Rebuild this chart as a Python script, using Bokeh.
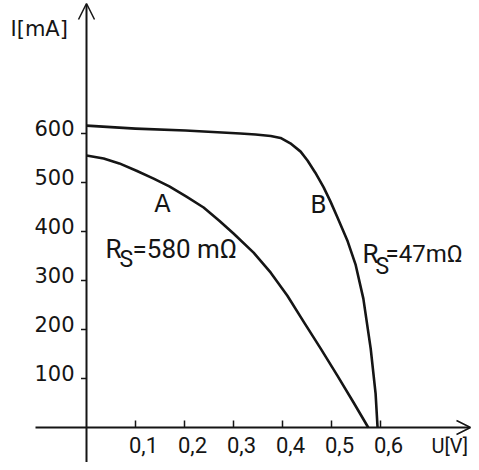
from bokeh.plotting import figure
from bokeh.models import Range1d, Arrow, OpenHead
from bokeh.core.properties import value
from bokeh.embed import file_html
from bokeh.resources import INLINE
import numpy as np

# ---- data ----
u_a = [0, 0.035, 0.067, 0.102, 0.137, 0.169, 0.204, 0.239, 0.271, 0.300,
       0.341, 0.376, 0.410, 0.443, 0.478, 0.512, 0.545, 0.575]
i_a = [555, 549, 539, 524, 508, 492, 471, 449, 422, 396,
       357, 316, 269, 216, 161, 106, 51, 0]

u_b = [0, 0.100, 0.202, 0.314, 0.345, 0.376, 0.396, 0.416, 0.437, 0.451,
       0.467, 0.484, 0.498, 0.512, 0.533, 0.549, 0.565, 0.580, 0.590, 0.594]
i_b = [616, 610, 606, 600, 598, 595, 591, 580, 563, 545,
       520, 490, 461, 429, 380, 333, 263, 161, 69, 0]

x_ticks = [0.1, 0.2, 0.3, 0.4, 0.5, 0.6]
x_tick_labels = ["0,1", "0,2", "0,3", "0,4", "0,5", "0,6"]
y_ticks = [100, 200, 300, 400, 500, 600]
y_tick_labels = ["100", "200", "300", "400", "500", "600"]

# ---- layout ----
W, H = 471, 462
PX_V = 490.0      # pixels per volt
PX_MA = 0.49      # pixels per mA
OX, OY = 86, 427  # origin in canvas pixels

x0, x1 = -OX / PX_V, (W - OX) / PX_V
y0, y1 = -(H - OY) / PX_MA, OY / PX_MA


def pu(xc):  # canvas x -> volts
    return (xc - OX) / PX_V


def pi_(yc):  # canvas y -> mA
    return (OY - yc) / PX_MA


INK = "#151515"
ROBOTO = value("Roboto")
DEJAVU = value("DejaVu Sans")

p = figure(width=W, height=H, x_range=Range1d(x0, x1), y_range=Range1d(y0, y1),
           x_axis_type=None, y_axis_type=None, toolbar_location=None,
           output_backend="svg", min_border=0, outline_line_color=None,
           background_fill_color="white", border_fill_color="white")

# axes with arrows
p.add_layout(Arrow(x_start=pu(35), y_start=0, x_end=pu(470), y_end=0,
                   line_width=2, line_color=INK,
                   end=OpenHead(size=14, line_width=1.5, line_color=INK)))
p.add_layout(Arrow(x_start=0, y_start=y0, x_end=0, y_end=pi_(3),
                   line_width=2, line_color=INK,
                   end=OpenHead(size=16, line_width=1.5, line_color=INK)))

# ticks
p.scatter(x=[pu(OX - 2.5)] * len(y_ticks), y=y_ticks, marker="dash", size=6,
          line_width=1.5, line_color=INK)
p.scatter(x=x_ticks, y=[3.5 / PX_MA] * len(x_ticks), marker="dash",
          angle=np.pi / 2, size=7, line_width=1.5, line_color=INK)

# tick labels
p.text(x=[0] * len(y_ticks), y=y_ticks, text=y_tick_labels, x_offset=-12,
       y_offset=-6, text_align="right", text_baseline="middle",
       text_font=DEJAVU, text_font_size="21px", text_color=INK)
p.text(x=x_ticks, y=[0] * len(x_ticks), text=x_tick_labels, x_offset=8,
       y_offset=17, text_align="center", text_baseline="middle",
       text_font=ROBOTO, text_font_size="22px", text_color=INK)

# axis titles
p.text(x=[pu(10)], y=[pi_(28)], text=["I[mA]"], text_align="left",
       text_baseline="middle", text_font=DEJAVU, text_font_size="21px",
       text_color=INK)
p.text(x=[pu(431)], y=[pi_(445)], text=["U[V]"], text_align="left",
       text_baseline="middle", text_font=ROBOTO, text_font_size="20px",
       text_color=INK)

# curves
p.line(u_a, i_a, line_width=2.6, line_color=INK, line_join="round")
p.line(u_b, i_b, line_width=2.6, line_color=INK, line_join="round")

# curve labels
p.text(x=[pu(162), pu(318)], y=[pi_(203), pi_(204)], text=["A", "B"],
       text_align="center", text_baseline="middle", text_font=DEJAVU,
       text_font_size="24px", text_color=INK)

# series resistance labels
p.text(x=[pu(105), pu(362)], y=[pi_(248), pi_(253)], text=["R", "R"],
       text_align="left", text_baseline="middle", text_font=ROBOTO,
       text_font_size="26px", text_color=INK)
p.text(x=[pu(119), pu(375)], y=[pi_(259), pi_(266)], text=["S", "S"],
       text_align="left", text_baseline="middle", text_font=ROBOTO,
       text_font_size="23px", text_color=INK)
p.text(x=[pu(132)], y=[pi_(248)], text=["=580 mΩ"],
       text_align="left", text_baseline="middle", text_font=ROBOTO,
       text_font_size="26px", text_color=INK)
p.text(x=[pu(385)], y=[pi_(253)], text=["=47mΩ"],
       text_align="left", text_baseline="middle", text_font=ROBOTO,
       text_font_size="24px", text_color=INK)

open("out.html", "w").write(file_html(p, INLINE))
